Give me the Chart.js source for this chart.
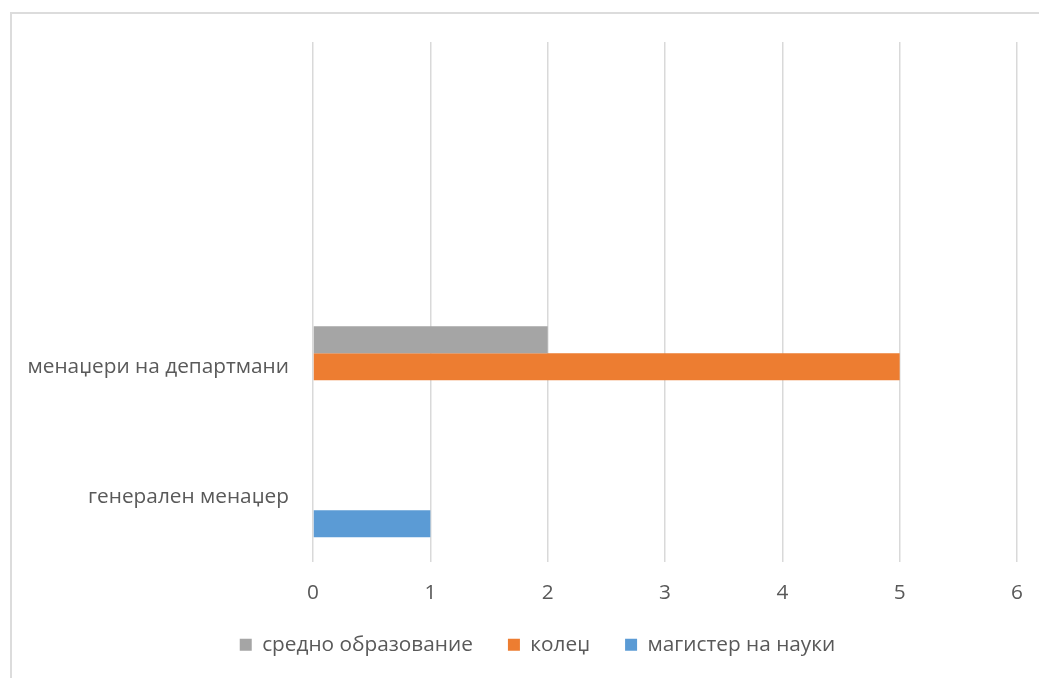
<!DOCTYPE html>
<html lang="mk">
<head>
    <meta charset="UTF-8">
    <title>Менаџери по образование</title>
    <script src="https://cdn.jsdelivr.net/npm/chart.js@4.4.0/dist/chart.umd.min.js"></script>
    <style>
      body { margin: 0; background: #fff; }
      #frame { position: absolute; left: 10px; top: 12px; width: 1100px; height: 700px; border: 2px solid #dcdcdc; }
      #chartEdu { position: absolute; left: 0; top: 0; }
    </style>
</head>
<body>
    <div id="frame"></div>
    <canvas id="chartEdu" width="1039" height="678"></canvas>
    <script>
      // categories top to bottom, the two top rows are empty in the source
      const categories = ['', '', 'менаџери на департмани', 'генерален менаџер'];
      const srednoValues = [null, null, 2, 0];
      const koledzValues = [null, null, 5, 0];
      const magisterValues = [null, null, 0, 1];
      const xTicks = [0, 1, 2, 3, 4, 5, 6];

      const textColor = '#595959';
      const fontFamily = '"Open Sans", "Noto Sans", sans-serif';

      // the legend sits a bit right of the canvas centre in the original
      const legendShift = {
        id: 'legendShift',
        afterLayout(chart) {
          chart.legend.left += 19;
          chart.legend.right += 19;
        }
      };

      const ctx = document.getElementById('chartEdu').getContext('2d');
      const chartEdu = new Chart(ctx, {
        type: 'bar',
        data: {
          labels: categories,
          datasets: [{
            label: 'средно образование',
            data: srednoValues,
            backgroundColor: '#A5A5A5'
          }, {
            label: 'колеџ',
            data: koledzValues,
            backgroundColor: '#ED7D31'
          }, {
            label: 'магистер на науки',
            data: magisterValues,
            backgroundColor: '#5B9BD5'
          }]
        },
        plugins: [legendShift],
        options: {
          indexAxis: 'y',
          responsive: false,
          animation: false,
          categoryPercentage: 0.623,
          barPercentage: 1,
          layout: {
            padding: { left: 20, right: 22, top: 42, bottom: 12.75 }
          },
          plugins: {
            legend: {
              display: true,
              position: 'bottom',
              labels: {
                color: textColor,
                font: { family: fontFamily, size: 20.8 },
                boxWidth: 12,
                boxHeight: 12,
                padding: 35
              }
            },
            tooltip: { enabled: false }
          },
          scales: {
            x: {
              min: 0,
              max: 6,
              afterBuildTicks: function(scale) {
                scale.ticks = xTicks.map(v => ({ value: v }));
              },
              afterFit: function(scale) {
                scale.height = 37.75;
                scale.paddingLeft = 0;
                scale.paddingRight = 0;
              },
              grid: {
                color: '#d9d9d9',
                lineWidth: 1.5,
                drawTicks: false
              },
              border: { display: false },
              ticks: {
                color: textColor,
                font: { family: fontFamily, size: 20.8 },
                padding: 19
              }
            },
            y: {
              afterFit: function(scale) {
                scale.width = 293;
              },
              grid: { display: false, drawTicks: false },
              border: { display: false },
              ticks: {
                color: textColor,
                font: { family: fontFamily, size: 20.8 },
                padding: 24
              }
            }
          }
        }
      });
    </script>
</body>
</html>
